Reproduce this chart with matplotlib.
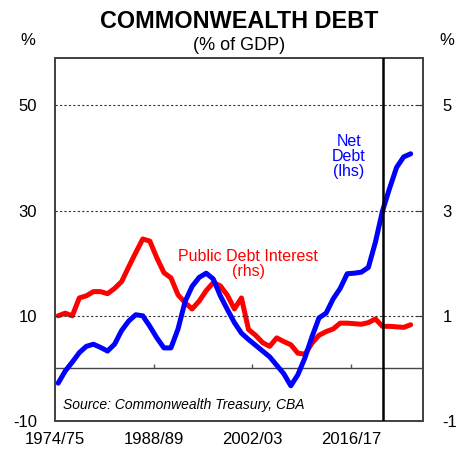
import numpy as np
import matplotlib.pyplot as plt

plt.rcParams['font.family'] = ['Liberation Sans', 'DejaVu Sans']
plt.rcParams['axes.unicode_minus'] = False

# Financial years 1974/75 .. 2024/25 (first year of each)
years = np.arange(1974, 2025)

# Net debt, % of GDP (lhs)
net_debt = [-2.8, -0.5, 1.2, 3.0, 4.2, 4.6, 4.0, 3.3, 4.6, 7.2,
            9.0, 10.2, 10.0, 8.0, 5.8, 3.9, 3.9, 7.5, 12.7, 15.6,
            17.3, 18.1, 17.0, 13.8, 11.2, 8.7, 6.7, 5.5, 4.4, 3.3,
            2.2, 0.6, -1.0, -3.3, -1.2, 2.0, 6.0, 9.6, 10.5, 13.2,
            15.2, 18.0, 18.1, 18.3, 19.2, 24.0, 29.9, 34.2, 38.2, 40.2,
            40.8]

# Public debt interest, % of GDP (rhs)
debt_interest = [1.00, 1.05, 1.00, 1.34, 1.38, 1.46, 1.46, 1.42, 1.52, 1.65,
                 1.93, 2.20, 2.46, 2.42, 2.10, 1.82, 1.72, 1.40, 1.25, 1.13,
                 1.28, 1.48, 1.63, 1.57, 1.39, 1.13, 1.34, 0.74, 0.63, 0.49,
                 0.42, 0.58, 0.51, 0.45, 0.29, 0.27, 0.48, 0.63, 0.70, 0.75,
                 0.86, 0.86, 0.85, 0.84, 0.87, 0.94, 0.80, 0.80, 0.79, 0.78,
                 0.83]

x = years + 0.45
tick_years = [1974, 1988, 2002, 2016]
tick_labels = ['1974/75', '1988/89', '2002/03', '2016/17']
forecast_start = 2020.5

fig = plt.figure(figsize=(4.63, 4.5), dpi=100)
ax = fig.add_axes([0.1188, 0.0644, 0.7948, 0.8078])
ax2 = ax.twinx()

ax.set_xlim(1974, 2026.2)
ax.set_ylim(-10, 59.1)
ax2.set_ylim(-1, 5.91)

for y in [10, 30, 50]:
    ax.axhline(y, color='#333333', lw=0.8, ls=(0, (2, 2)), zorder=1)
ax.axhline(0, color='#444444', lw=1.0, zorder=1)
ax.vlines(tick_years[1:], 0, 0.9, color='#555555', lw=1.0)
ax.axvline(forecast_start, color='black', lw=1.8, zorder=5)

ax2.plot(x, debt_interest, color='#ff0000', lw=3.6, solid_capstyle='round',
         solid_joinstyle='round', zorder=3)
ax.plot(x, net_debt, color='#0000ff', lw=3.6, solid_capstyle='round',
        solid_joinstyle='round', zorder=4)
ax.set_zorder(ax2.get_zorder() + 1)
ax.patch.set_visible(False)

ax.set_yticks([-10, 10, 30, 50])
ax2.set_yticks([-1, 1, 3, 5])
ax.set_xticks(tick_years)
ax.set_xticklabels(tick_labels)
ax.tick_params(axis='x', length=0, pad=8, labelsize=12)
ax.tick_params(axis='y', length=0, pad=13, labelsize=12)
ax2.tick_params(axis='y', direction='in', length=5, pad=14, labelsize=12,
                color='#444444')

for a in (ax, ax2):
    for s in a.spines.values():
        s.set_color('#444444')
        s.set_linewidth(1.4)

ax.text(2015.7, 40.3, 'Net\nDebt\n(lhs)', color='#0000ff', fontsize=11.5,
        ha='center', va='center', linespacing=1.0)
ax.text(2001.4, 19.8, 'Public Debt Interest\n(rhs)', color='#ff0000',
        fontsize=11.5, ha='center', va='center', linespacing=1.0)
ax.text(1975.2, -6.9, 'Source: Commonwealth Treasury, CBA', fontsize=10,
        style='italic', ha='left', va='center')

fig.text(0.517, 0.953, 'COMMONWEALTH DEBT', fontsize=16.8, fontweight='bold',
         ha='center', va='center')
fig.text(0.517, 0.900, '(% of GDP)', fontsize=13, ha='center', va='center')
fig.text(0.06, 0.910, '%', fontsize=12, ha='center', va='center')
fig.text(0.965, 0.910, '%', fontsize=12, ha='center', va='center')

fig.savefig('out.png', dpi=100)
